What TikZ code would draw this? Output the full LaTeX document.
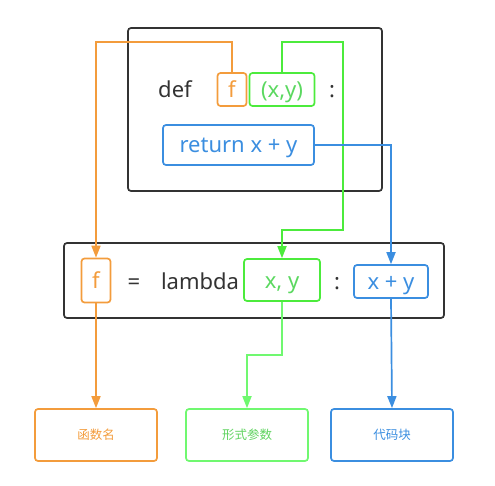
\documentclass[tikz,border=0pt]{standalone}
\usepackage{fontspec}
\setmainfont{Noto Sans}
\newfontfamily\cjk{Noto Sans CJK SC}
\usetikzlibrary{arrows.meta}
\definecolor{fnorange}{HTML}{F39C3C}
\definecolor{argsgreen}{HTML}{4CEB3C}
\definecolor{argstext}{HTML}{5BD860}
\definecolor{lightgreen}{HTML}{70F870}
\definecolor{codeblue}{HTML}{3B8EE0}
\definecolor{frame}{HTML}{333333}
\tikzset{
  outer/.style={draw=frame, line width=1.7pt, rounded corners=3pt},
  part/.style={draw, line width=1.7pt, rounded corners=3pt, inner sep=0pt,
               text height=19pt, text depth=3pt,
               font=\fontsize{22}{26}\selectfont},
  label/.style={draw, line width=1.7pt, rounded corners=3pt, inner sep=0pt,
                minimum width=122pt, minimum height=52pt,
                font=\cjk\fontsize{12.5}{15}\selectfont},
  word/.style={text=frame, text height=19pt, text depth=3pt,
               font=\fontsize{22}{26}\selectfont},
  link/.style={line width=1.7pt, ->}
}
\begin{document}
\begin{tikzpicture}[x=1pt, y=-1pt, >={Triangle[width=9pt,length=12pt]}]
\useasboundingbox (0,0) rectangle (495,486);

\draw[outer] (128,28) rectangle (382,191);
\node[word] (def) at (175,89.5) {def};
\node[part, draw=fnorange, text=fnorange, minimum width=29pt, minimum height=33pt] (fdef) at (232,89.5) {f};
\node[part, draw=argsgreen, text=argstext, minimum width=65pt, minimum height=33pt] (argsdef) at (282,89.5) {(x,y)};
\node[word] (colondef) at (332,89.5) {:};
\node[part, draw=codeblue, text=codeblue, minimum width=151pt, minimum height=40pt] (ret) at (238.5,145) {return x + y};

\draw[outer] (64,243) rectangle (444,318);
\node[part, draw=fnorange, text=fnorange, minimum width=29pt, minimum height=44pt] (flam) at (96,280.5) {f};
\node[word] (eq) at (134,281) {=};
\node[word] (lam) at (200,281) {lambda};
\node[part, draw=argsgreen, text=argstext, minimum width=76pt, minimum height=42pt] (argslam) at (282,280) {x, y};
\node[word] (colonlam) at (337,281) {:};
\node[part, draw=codeblue, text=codeblue, minimum width=74pt, minimum height=33pt] (body) at (391,281.5) {x + y};

\node[label, draw=fnorange, text=fnorange] (name) at (96,435) {函数名};
\node[label, draw=lightgreen, text=lightgreen!85!black] (params) at (247,435) {形式参数};
\node[label, draw=codeblue, text=codeblue] (code) at (392,435) {代码块};

\coordinate (gturn) at (343,230);
\draw[link, fnorange] (fdef.north) -- ++(0,-30) -| (flam.north);
\draw[link, argsgreen] (argsdef.north) -- ++(0,-30) -| (gturn) -| (argslam.north);
\draw[link, codeblue] (ret.east) -| (body.north);

\draw[link, fnorange] (flam.south) -- (name.north);
\draw[link, lightgreen] (argslam.south) -- ++(0,53) -| (params.north);
\draw[link, codeblue] (body.south) -- (code.north);
\end{tikzpicture}
\end{document}
